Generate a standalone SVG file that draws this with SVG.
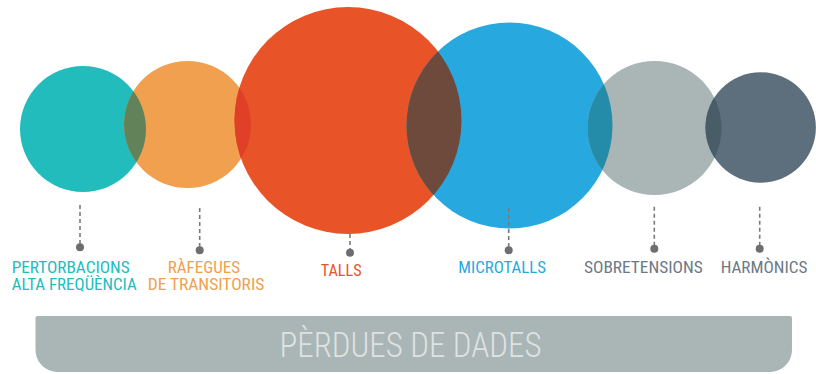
<svg xmlns="http://www.w3.org/2000/svg" width="816" height="374" viewBox="0 0 816 374">
<style>
.lbl{font-family:"Roboto Condensed","Liberation Sans Narrow","DejaVu Sans Condensed",Roboto,sans-serif;font-size:16px;}
.conn line{stroke:#7a7a7c;stroke-width:1.6;stroke-dasharray:4 3;fill:none;}
.conn circle{fill:#6d6e71;}
.title{font-family:"Roboto Condensed","Liberation Sans Narrow",Roboto,sans-serif;font-weight:300;font-size:35px;fill:#dde3e3;}
</style>
<defs>
<clipPath id="cTeal"><circle cx="83" cy="129" r="63"/></clipPath>
<clipPath id="cOrange"><circle cx="187.5" cy="124.5" r="63.5"/></clipPath>
<clipPath id="cRed"><circle cx="348" cy="120.5" r="113.5"/></clipPath>
<clipPath id="cBlue"><circle cx="509.5" cy="125.5" r="103"/></clipPath>
<clipPath id="cGray"><circle cx="654.5" cy="128" r="67"/></clipPath>
</defs>

<g id="node-pertorbacions">
<circle cx="83" cy="129" r="63" fill="#22bcbd"/>
<text class="lbl" fill="#22bcbd" x="11.7" y="273.3" textLength="118" lengthAdjust="spacingAndGlyphs">PERTORBACIONS</text>
<text class="lbl" fill="#22bcbd" x="11.7" y="290" textLength="125" lengthAdjust="spacingAndGlyphs">ALTA FREQÜÈNCIA</text>
</g>
<g id="node-rafegues">
<circle cx="187.5" cy="124.5" r="63.5" fill="#f0a04e"/>
<text class="lbl" fill="#f0a04e" x="167.7" y="273.3" textLength="72.3" lengthAdjust="spacingAndGlyphs">RÀFEGUES</text>
<text class="lbl" fill="#f0a04e" x="147.7" y="290" textLength="116.6" lengthAdjust="spacingAndGlyphs">DE TRANSITORIS</text>
</g>
<g id="node-talls">
<circle cx="348" cy="120.5" r="113.5" fill="#e85427"/>
<text class="lbl" fill="#e85427" x="320.7" y="276" textLength="41" lengthAdjust="spacingAndGlyphs">TALLS</text>
</g>
<g id="node-microtalls">
<circle cx="509.5" cy="125.5" r="103" fill="#27a9e0"/>
<text class="lbl" fill="#27a9e0" x="458.3" y="273.3" textLength="87.7" lengthAdjust="spacingAndGlyphs">MICROTALLS</text>
</g>
<g id="node-sobretensions">
<circle cx="654.5" cy="128" r="67" fill="#aab5b5"/>
<text class="lbl" fill="#6b7986" x="584" y="273.3" textLength="118.7" lengthAdjust="spacingAndGlyphs">SOBRETENSIONS</text>
</g>
<g id="node-harmonics">
<circle cx="760.7" cy="127.5" r="55.2" fill="#5d6e7c"/>
<text class="lbl" fill="#6b7986" x="720.7" y="273.3" textLength="86.6" lengthAdjust="spacingAndGlyphs">HARMÒNICS</text>
</g>

<g id="overlaps">
<circle cx="187.5" cy="124.5" r="63.5" fill="#62825a" clip-path="url(#cTeal)"/>
<circle cx="348" cy="120.5" r="113.5" fill="#e04027" clip-path="url(#cOrange)"/>
<circle cx="509.5" cy="125.5" r="103" fill="#6e4a3c" clip-path="url(#cRed)"/>
<circle cx="654.5" cy="128" r="67" fill="#248ba9" clip-path="url(#cBlue)"/>
<circle cx="760.7" cy="127.5" r="55.2" fill="#485d68" clip-path="url(#cGray)"/>
</g>

<g id="connectors" class="conn">
<line x1="80" y1="205" x2="80" y2="245"/><circle cx="80" cy="247.3" r="4"/>
<line x1="199.7" y1="208" x2="199.7" y2="248"/><circle cx="199.7" cy="250.3" r="4"/>
<line x1="350" y1="234" x2="350" y2="250"/><circle cx="350" cy="252.7" r="4"/>
<line x1="508.7" y1="208" x2="508.7" y2="248"/><circle cx="508.7" cy="250.3" r="4"/>
<line x1="654.3" y1="206.7" x2="654.3" y2="246"/><circle cx="654.3" cy="248.7" r="4"/>
<line x1="759.7" y1="206.7" x2="759.7" y2="246"/><circle cx="759.7" cy="248.7" r="4"/>
</g>

<g id="banner">
<path d="M35.5,318 Q35.5,316 37.5,316 H790 Q792,316 792,318 V350 A22,22 0 0 1 770,372 H57.5 A22,22 0 0 1 35.5,350 Z" fill="#aab5b5"/>
<text class="title" x="279.5" y="356.7" textLength="262" lengthAdjust="spacingAndGlyphs">PÈRDUES DE DADES</text>
</g>
</svg>
